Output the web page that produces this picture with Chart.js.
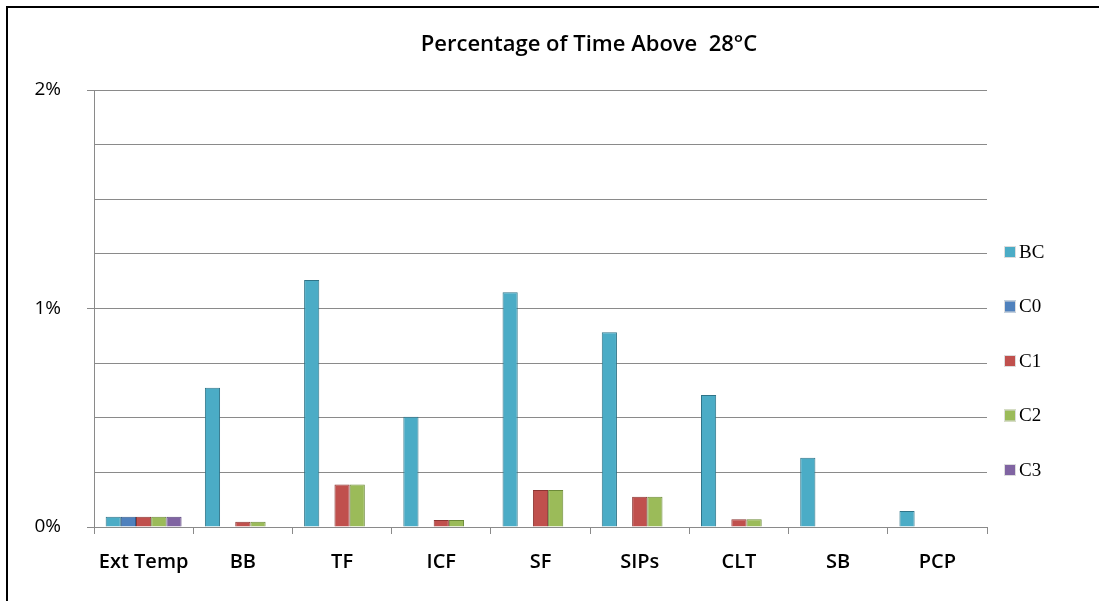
<!DOCTYPE html>
<html>
<head>
<meta charset="utf-8">
<script src="https://cdn.jsdelivr.net/npm/chart.js@4"></script>
<style>
  html, body { margin: 0; padding: 0; background: #fff; overflow: hidden; }
  #chart { display: block; }
</style>
</head>
<body>
<canvas id="chart" width="1099" height="601"></canvas>
<script>
// chart data (percent of time above 28C)
const categories = ['Ext Temp', 'BB', 'TF', 'ICF', 'SF', 'SIPs', 'CLT', 'SB', 'PCP'];
const seriesNames = ['BC', 'C0', 'C1', 'C2', 'C3'];
const bcValues = [0.047, 0.637, 1.130, 0.505, 1.074, 0.891, 0.604, 0.317, 0.073];
const c0Values = [0.047, 0, 0, 0, 0, 0, 0, 0, 0];
const c1Values = [0.047, 0.024, 0.195, 0.032, 0.169, 0.139, 0.035, 0, 0];
const c2Values = [0.047, 0.024, 0.195, 0.032, 0.169, 0.139, 0.035, 0, 0];
const c3Values = [0.047, 0, 0, 0, 0, 0, 0, 0, 0];
const yTicks = [0, 1, 2];
const titleText = 'Percentage of Time Above  28\u00B0C';

const fills = ['#4BACC6', '#4F81BD', '#C0504D', '#9BBB59', '#8064A2'];
const borders = ['#2F7488', '#345B8A', '#8A3431', '#6C8A38', '#57427A'];
const values = [bcValues, c0Values, c1Values, c2Values, c3Values];

const axisGray = '#8a8a8a';

// black frame on the top and left edge of the picture
const framePlugin = {
    id: 'frame',
    beforeDraw(chart) {
        const ctx = chart.ctx;
        ctx.save();
        ctx.fillStyle = '#fff';
        ctx.fillRect(0, 0, chart.width, chart.height);
        ctx.fillStyle = '#000';
        ctx.fillRect(6, 6, chart.width - 6, 2);
        ctx.fillRect(6, 6, 2, chart.height - 6);
        ctx.restore();
    }
};

// title drawn over the plot, centred like the original
const titlePlugin = {
    id: 'excelTitle',
    afterDraw(chart) {
        const ctx = chart.ctx;
        ctx.save();
        let size = 20;
        ctx.font = '600 ' + size + 'px "Open Sans"';
        const w = ctx.measureText(titleText).width;
        size = size * 336 / w;
        ctx.font = '600 ' + size.toFixed(1) + 'px "Open Sans"';
        ctx.fillStyle = '#000';
        ctx.textAlign = 'center';
        ctx.textBaseline = 'middle';
        ctx.fillText(titleText, 589, 45);
        ctx.restore();
    }
};

// vertical legend on the right side
const legendPlugin = {
    id: 'sideLegend',
    afterDraw(chart) {
        const ctx = chart.ctx;
        ctx.save();
        ctx.font = '19px "Liberation Serif"';
        ctx.textBaseline = 'middle';
        chart.data.datasets.forEach((ds, i) => {
            const y = 252 + i * 54.5;
            ctx.fillStyle = ds.backgroundColor;
            ctx.fillRect(1004, y - 6, 12, 12);
            ctx.strokeStyle = '#dddddd';
            ctx.lineWidth = 1;
            ctx.strokeRect(1004.5, y - 5.5, 11, 11);
            ctx.fillStyle = '#000';
            ctx.fillText(ds.label, 1019, y + 1);
        });
        ctx.restore();
    }
};

new Chart(document.getElementById('chart'), {
    type: 'bar',
    data: {
        labels: categories,
        datasets: seriesNames.map((name, i) => ({
            label: name,
            data: values[i],
            backgroundColor: fills[i],
            borderColor: borders[i],
            borderWidth: 1,
            categoryPercentage: 0.765,
            barPercentage: 1
        }))
    },
    options: {
        responsive: false,
        animation: false,
        layout: { padding: { left: 0, right: 112, top: 90, bottom: 0 } },
        plugins: {
            legend: { display: false },
            title: { display: false },
            tooltip: { enabled: false }
        },
        scales: {
            x: {
                afterFit: s => { s.height = 74; },
                border: { color: axisGray },
                grid: {
                    offset: true,
                    drawOnChartArea: false,
                    tickLength: 7,
                    color: axisGray
                },
                ticks: {
                    color: '#000',
                    padding: 16,
                    font: { family: '"Open Sans"', size: 20, weight: '600' }
                }
            },
            y: {
                min: 0,
                max: 2,
                afterFit: s => { s.width = 94; },
                border: { color: axisGray },
                grid: {
                    color: axisGray,
                    tickLength: 7,
                    tickColor: c => (c.tick && yTicks.includes(c.tick.value)) ? axisGray : 'rgba(0,0,0,0)'
                },
                ticks: {
                    stepSize: 0.25,
                    padding: 26,
                    color: '#000',
                    font: { family: '"Open Sans"', size: 19 },
                    callback: v => yTicks.includes(v) ? v + '%' : ''
                }
            }
        }
    },
    plugins: [framePlugin, titlePlugin, legendPlugin]
});
</script>
</body>
</html>
